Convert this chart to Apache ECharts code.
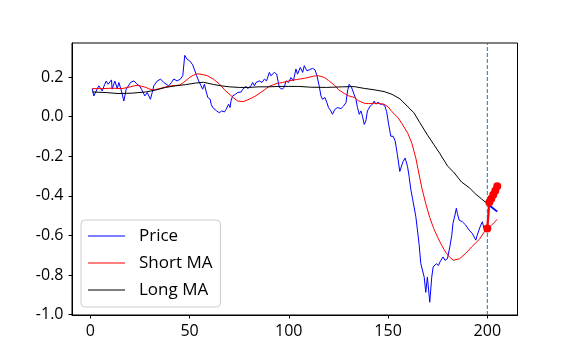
<!DOCTYPE html>
<html>
<head>
<meta charset="utf-8">
<script src="https://cdn.jsdelivr.net/npm/echarts@6/dist/echarts.min.js"></script>
<style>html,body{margin:0;padding:0;background:#fff}#c{width:576px;height:360px}</style>
</head>
<body>
<div id="c"></div>
<script>
const xTicks = [0, 50, 100, 150, 200];
const yTicks = [-1.0, -0.8, -0.6, -0.4, -0.2, 0.0, 0.2];
const seriesNames = ['Price', 'Short MA', 'Long MA'];
const cutoffX = 200;

const price = [[1,0.142],[1.8,0.105],[4.3,0.156],[6,0.13],[7.3,0.164],[8,0.18],[9,0.164],[10.7,0.186],[11,0.139],[12.4,0.18],[13.6,0.142],[14.4,0.173],[15.7,0.13],[16.9,0.079],[18.1,0.139],[20.3,0.173],[22,0.181],[23.6,0.164],[24.8,0.156],[25.8,0.139],[27.5,0.105],[28.7,0.122],[30.3,0.088],[31.2,0.122],[32,0.156],[33.7,0.18],[35.4,0.19],[37,0.173],[37.9,0.181],[39.5,0.156],[40.9,0.173],[42,0.19],[43.8,0.181],[45.4,0.19],[46.6,0.207],[47.6,0.31],[48.8,0.29],[50,0.283],[51.6,0.262],[52.6,0.27],[53.6,0.207],[54.6,0.181],[55.8,0.156],[56.6,0.139],[57.5,0.164],[58.3,0.13],[59.2,0.097],[60.4,0.088],[60.9,0.063],[61.7,0.046],[62.5,0.054],[63.7,0.029],[65,0.02],[66.2,0.029],[67.6,0.024],[68.4,0.037],[69.2,0.046],[69.7,0.063],[70.4,0.046],[70.9,0.08],[71.7,0.105],[73.1,0.113],[74.2,0.122],[76,0.125],[76.8,0.139],[77.6,0.13],[78.5,0.153],[79.3,0.142],[81,0.156],[81.8,0.173],[82.7,0.156],[83.5,0.173],[85.2,0.181],[86.5,0.173],[87.7,0.19],[88.8,0.181],[90.2,0.224],[91,0.207],[91.9,0.198],[92.7,0.224],[93.9,0.215],[95.2,0.148],[96.6,0.139],[97.7,0.148],[98.6,0.181],[99.9,0.173],[101.1,0.198],[102.3,0.181],[103.6,0.241],[104.4,0.215],[105.8,0.249],[107,0.224],[107.8,0.258],[109.1,0.232],[110.3,0.237],[112,0.244],[113.2,0.237],[114.2,0.207],[115.3,0.156],[116.2,0.105],[117,0.088],[118.2,0.097],[119.2,0.071],[120,0.046],[121.2,0.029],[122,0.012],[123.2,0.037],[124.5,0.046],[126.3,0.041],[127.6,0.054],[128.8,0.071],[129.6,0.13],[130.4,0.164],[131.6,0.148],[132.6,0.139],[133.8,0.088],[134.6,0.046],[135.5,0.012],[136.3,0.029],[137.1,0.003],[138,-0.039],[138.8,-0.022],[139.6,0.029],[141,0.054],[142.2,0.063],[143,0.079],[143.9,0.063],[145,0.074],[146,0.063],[147.2,0.063],[148.4,0.054],[149.3,0.025],[150.2,-0.033],[151.4,-0.099],[152.6,-0.099],[153.6,-0.124],[154.7,-0.192],[155.9,-0.277],[157,-0.243],[157.6,-0.226],[158.6,-0.209],[159.8,-0.251],[160.6,-0.302],[161.5,-0.37],[162.3,-0.412],[163.1,-0.421],[164,-0.506],[164.8,-0.573],[165.6,-0.641],[166.5,-0.743],[167.3,-0.743],[168.2,-0.811],[169,-0.888],[169.8,-0.811],[171,-0.938],[172,-0.811],[172.7,-0.76],[173.7,-0.768],[174.3,-0.743],[175.4,-0.752],[176.1,-0.735],[177.1,-0.743],[177.7,-0.709],[178.7,-0.726],[179.9,-0.718],[181.1,-0.659],[182.1,-0.599],[182.7,-0.539],[183.7,-0.497],[184.4,-0.463],[184.9,-0.489],[185.8,-0.523],[186.6,-0.514],[187.4,-0.531],[188.3,-0.523],[189.1,-0.548],[189.9,-0.539],[190.8,-0.573],[191.6,-0.565],[192.4,-0.59],[193.3,-0.599],[194.2,-0.624],[194.9,-0.599],[195.8,-0.573],[196.7,-0.548],[197.5,-0.531],[198.3,-0.565],[199.2,-0.573],[200,-0.565]];

const shortMA = [[1,0.142],[6,0.142],[11,0.144],[16,0.142],[19,0.148],[23,0.158],[25,0.156],[28,0.148],[30,0.139],[32,0.135],[35,0.142],[38,0.151],[41,0.156],[45,0.16],[47,0.173],[50,0.198],[52,0.21],[54,0.217],[57,0.212],[59,0.207],[62,0.19],[65,0.166],[68,0.132],[72,0.097],[74,0.08],[77,0.076],[80,0.088],[83,0.103],[87,0.13],[90,0.153],[94,0.168],[97,0.173],[100,0.181],[104,0.188],[108,0.194],[113,0.206],[115,0.207],[118,0.198],[120,0.183],[123,0.159],[125,0.137],[128,0.117],[130,0.106],[133,0.097],[135,0.081],[138,0.068],[140,0.066],[143,0.068],[145,0.067],[148,0.063],[150,0.05],[152,0.025],[155,-0.005],[157,-0.035],[160,-0.085],[162,-0.135],[164,-0.21],[165,-0.26],[167,-0.36],[169,-0.44],[171,-0.51],[173,-0.565],[175,-0.61],[177,-0.65],[179,-0.685],[181,-0.71],[183,-0.726],[186,-0.718],[189,-0.692],[192,-0.659],[196,-0.62],[199,-0.575],[200,-0.565],[202,-0.55],[205,-0.519]];

const longMA = [[1,0.125],[8,0.122],[14,0.117],[21,0.119],[28,0.125],[33,0.135],[38,0.148],[43,0.156],[48,0.162],[53,0.17],[57,0.174],[62,0.163],[66,0.156],[70,0.151],[75,0.148],[80,0.148],[85,0.151],[90,0.151],[95,0.153],[100,0.153],[105,0.153],[111,0.149],[119,0.148],[127,0.151],[133,0.152],[138,0.143],[143,0.136],[148,0.127],[152,0.113],[156,0.09],[160,0.05],[163,0.02],[166,-0.03],[170,-0.095],[173,-0.14],[176,-0.185],[180,-0.25],[183,-0.28],[187,-0.33],[191,-0.36],[194,-0.39],[197,-0.415],[200,-0.44]];

const forecastPrice = [[200,-0.44],[205,-0.48]];
const forecastPoints = [[200,-0.565],[201,-0.432],[202,-0.415],[203,-0.395],[204,-0.375],[205,-0.352]];
const cutoffLine = [[cutoffX,-1.0025],[cutoffX,0.3725]];

const FONT = '"Open Sans", "Noto Sans", sans-serif';
const chart = echarts.init(document.getElementById('c'), null, {renderer: 'canvas'});
chart.setOption({
  animation: false,
  backgroundColor: '#fff',
  grid: {left: 72, right: 58.5, top: 43, bottom: 45, show: true, borderColor: '#000', borderWidth: 1, backgroundColor: 'transparent'},
  xAxis: {
    type: 'value', min: -9.2, max: 215.2,
    splitLine: {show: false},
    axisLine: {show: true, onZero: false, lineStyle: {color: '#000', width: 1}},
    axisTick: {show: true, length: 3.5, lineStyle: {color: '#000', width: 1}, customValues: xTicks},
    axisLabel: {customValues: xTicks, color: '#000', fontSize: 16, fontFamily: FONT, margin: 8}
  },
  yAxis: {
    type: 'value', min: -1.0025, max: 0.3725,
    splitLine: {show: false},
    axisLine: {show: true, onZero: false, lineStyle: {color: '#000', width: 1}},
    axisTick: {show: true, length: 3.5, lineStyle: {color: '#000', width: 1}, customValues: yTicks},
    axisLabel: {customValues: yTicks, color: '#000', fontSize: 16, fontFamily: FONT, margin: 8.5, padding: [3, 0, 0, 0],
      formatter: v => (Math.abs(v) < 1e-9 ? 0 : v).toFixed(1)}
  },
  legend: {
    data: seriesNames, orient: 'vertical', left: 81, top: 220,
    backgroundColor: 'rgba(255,255,255,0.8)', borderColor: '#cccccc', borderWidth: 1, borderRadius: 4,
    padding: [6, 8, 7, 7], itemGap: 7, itemWidth: 37, itemHeight: 1.2, icon: 'rect',
    textStyle: {color: '#000', fontSize: 17, fontFamily: FONT, lineHeight: 20, padding: [0, 0, 0, 9]}
  },
  series: [
    {name: 'Price', type: 'line', data: price, symbol: 'none', lineStyle: {color: '#0000ff', width: 1}, itemStyle: {color: '#0000ff'}, z: 2},
    {name: 'Short MA', type: 'line', data: shortMA, symbol: 'none', lineStyle: {color: '#ff0000', width: 1}, itemStyle: {color: '#ff0000'}, z: 3},
    {name: 'Long MA', type: 'line', data: longMA, symbol: 'none', lineStyle: {color: '#000000', width: 1}, itemStyle: {color: '#000000'}, z: 4},
    {name: 'cutoff', type: 'line', data: cutoffLine, symbol: 'none', silent: true, lineStyle: {color: '#1f77b4', width: 1, type: [4, 2]}, itemStyle: {color: '#1f77b4'}, z: 1},
    {name: 'forecastPrice', type: 'line', data: forecastPrice, symbol: 'none', lineStyle: {color: '#0000ff', width: 1.8}, itemStyle: {color: '#0000ff'}, z: 5},
    {name: 'forecastPoints', type: 'line', data: forecastPoints, symbol: 'circle', symbolSize: 8, showSymbol: true, lineStyle: {color: '#ff0000', width: 2.2}, itemStyle: {color: '#ff0000'}, z: 6}
  ]
});
</script>
</body>
</html>
